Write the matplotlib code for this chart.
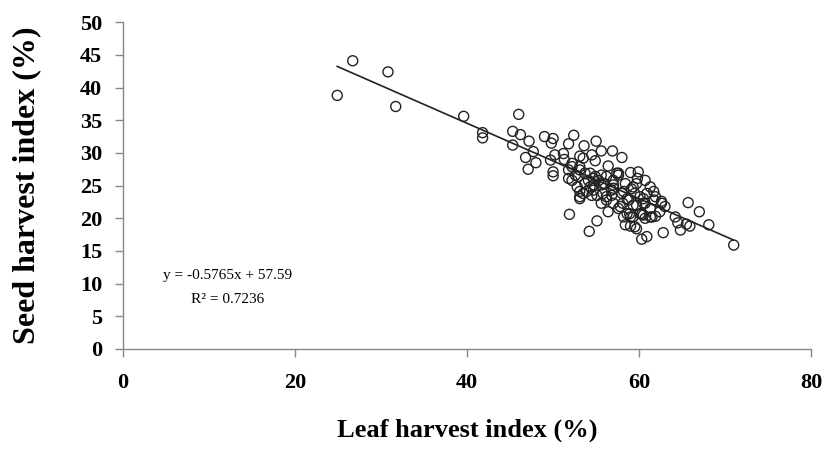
"""Seed harvest index vs leaf harvest index, with linear trendline."""
import matplotlib.pyplot as plt
import numpy as np

# (leaf HI %, seed HI %)
leaf_hi = [
    24.9, 26.7, 30.8, 31.7, 39.6, 41.8, 41.8, 45.3, 45.3, 46.0, 46.2, 47.2,
    46.8, 48.0, 47.1, 47.7, 49.0, 50.0, 49.8, 52.4, 51.8, 53.6, 55.0, 55.6,
    56.9, 54.9, 56.4, 50.2, 49.7, 51.2, 50.0, 50.0, 51.3, 52.2, 53.5, 53.1,
    52.6, 51.8, 53.7, 54.1, 52.8, 53.1, 53.5, 54.7, 55.3, 55.6, 54.7, 55.1,
    55.8, 56.2, 56.8, 57.0, 57.4, 56.2, 51.9, 55.1, 54.2, 54.3, 52.2,
    71.0, 65.7, 67.0, 68.1, 65.9, 64.8, 64.5, 64.2, 65.5, 62.8, 60.3, 60.9,
    59.0, 59.7, 62.6, 62.4, 61.3, 60.3, 59.0, 58.9, 61.7, 60.5, 58.0, 57.6,
    59.0, 59.8, 60.7, 61.3, 61.7, 59.3, 58.2, 57.0, 55.8, 56.2, 57.8, 59.3,
    58.8, 60.1, 60.9,
    59.9, 59.7, 58.6, 60.5, 58.2, 58.4, 59.5, 60.5, 61.5,
    53.1, 54.5, 52.2, 51.8, 53.1, 52.9, 54.3, 54.9, 55.6, 57.6, 53.7, 54.7,
    56.0, 57.0, 58.4, 59.1, 53.1, 54.5, 56.8, 58.0, 59.5, 61.9, 53.1, 55.6,
    57.0, 58.1, 59.7, 60.7, 61.3, 58.6, 60.1, 59.3, 57.6, 56.4, 53.9, 60.7,
    61.9, 62.6, 63.0,
]
seed_hi = [
    38.8, 44.1, 42.4, 37.1, 35.6, 33.1, 32.3, 33.3, 31.2, 35.9, 32.8, 31.8,
    29.3, 28.5, 27.5, 30.2, 32.5, 32.2, 31.5, 32.7, 31.4, 31.1, 31.8, 30.3,
    30.3, 28.8, 28.0, 29.7, 28.9, 29.9, 27.1, 26.5, 29.0, 27.9, 29.2, 27.9,
    26.6, 26.1, 26.9, 25.8, 24.8, 23.3, 23.8, 26.1, 25.8, 25.1, 24.3, 23.5,
    23.8, 22.8, 24.3, 25.8, 26.9, 26.4, 20.6, 19.6, 18.0, 24.8, 25.8,
    15.9, 22.4, 21.0, 19.0, 18.8, 18.2, 19.3, 20.2, 19.1, 17.8, 16.8, 17.2,
    18.8, 18.4, 22.3, 21.0, 20.2, 20.6, 20.2, 20.7, 22.8, 22.3, 29.3, 26.9,
    27.0, 26.1, 25.8, 24.8, 24.1, 24.8, 24.1, 24.6, 25.3, 23.3, 21.8, 22.0,
    22.8, 23.3, 23.8,
    27.1, 25.3, 23.0, 23.0, 20.2, 19.0, 18.7, 20.5, 20.2,
    29.5, 29.7, 28.4, 27.4, 27.4, 26.4, 26.9, 26.4, 26.6, 26.6, 25.3, 25.1,
    25.3, 25.1, 25.3, 24.5, 24.1, 23.5, 23.5, 23.8, 23.8, 23.3, 23.0, 22.3,
    22.3, 22.3, 22.0, 22.3, 21.5, 20.7, 20.7, 20.2, 21.5, 21.0, 24.1, 20.0,
    20.3, 22.6, 21.8,
]

slope = -0.5765
intercept = 57.59
r_squared = 0.7236

plt.rcParams["font.family"] = ["Liberation Serif", "DejaVu Serif"]

fig = plt.figure(figsize=(8.26, 4.53), dpi=100)
ax = fig.add_axes([0.149, 0.2296, 0.833, 0.7214])

ax.scatter(leaf_hi, seed_hi, s=52, facecolors="none", edgecolors="#222222",
           linewidths=1.0, zorder=3)

xs = np.array([min(leaf_hi), max(leaf_hi)])
ax.plot(xs, slope * xs + intercept, color="#222222", linewidth=1.2, zorder=2)

ax.text(12.2, 11.3, f"y = {slope}x + {intercept}", ha="center", va="center",
        fontsize=11)
ax.text(12.2, 7.5, f"R² = {r_squared}", ha="center", va="center",
        fontsize=11)

ax.set_xlim(0, 80)
ax.set_ylim(0, 50)
ax.set_xticks(np.arange(0, 81, 20))
ax.set_yticks(np.arange(0, 51, 5))
for side in ("top", "right"):
    ax.spines[side].set_visible(False)
for side in ("left", "bottom"):
    ax.spines[side].set_color("#888888")
    ax.spines[side].set_linewidth(1.0)
ax.tick_params(colors="#888888", length=6, width=1.0, labelcolor="black",
               labelsize=16)
for lbl in ax.get_xticklabels() + ax.get_yticklabels():
    lbl.set_fontweight("bold")
ax.tick_params(axis="x", pad=11)
ax.tick_params(axis="y", pad=9)

ax.set_xlabel("Leaf harvest index (%)", fontsize=19, fontweight="bold",
              labelpad=19)
ax.set_ylabel("Seed harvest index (%)", fontsize=23, fontweight="bold",
              labelpad=28)

fig.savefig("out.png", dpi=100)
